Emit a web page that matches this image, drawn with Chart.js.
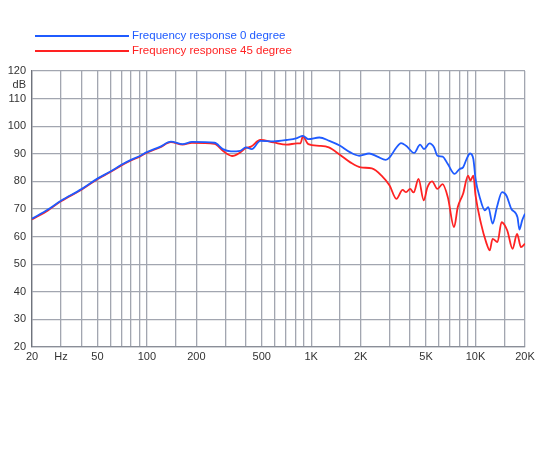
<!DOCTYPE html>
<html><head><meta charset="utf-8">
<script src="https://cdn.jsdelivr.net/npm/chart.js@4.4.0/dist/chart.umd.min.js"></script>
<style>html,body{margin:0;padding:0;background:#fff}#wrap{width:550px;height:450px;position:relative}</style>
</head><body><div id="wrap"><canvas id="c"></canvas></div>
<script>
const seriesLabels = ['Frequency response 0 degree', 'Frequency response 45 degree'];

const freq0 = [20,25,30,40,50,60,70,80,90,100,120,140,165,188,258,290,325,370,400,435,490,590,710,820,890,960,1120,1290,1500,1730,1960,2250,2530,2840,3000,3300,3520,3780,4230,4600,4860,5250,5600,5860,6300,6780,7460,8000,8400,8820,9270,9700,10000,10600,11400,11950,12700,13500,14500,15400,16500,18000,18500,19200,20000];
const spl0 = [66.5,69.8,73.0,77.2,81.0,83.6,86.0,87.8,89.1,90.6,92.5,94.4,93.5,94.3,94.0,91.7,90.9,91.1,92.3,91.7,94.7,94.5,95.0,95.7,96.5,95.3,95.9,94.7,92.9,90.5,89.3,90.1,89.0,87.8,88.7,92.3,93.9,92.9,90.3,93.3,91.7,93.8,92.3,89.3,89.0,86.3,82.7,84.5,85.1,88.1,90.1,88.1,80.9,74.3,69.5,70.7,64.7,70.7,76.1,74.9,70.1,67.0,62.5,65.8,68.3];

const freq45 = [20,25,30,40,50,60,70,80,90,100,120,140,165,188,258,290,330,370,400,430,490,590,710,820,860,890,960,1120,1280,1500,1730,2000,2340,2680,3000,3300,3600,3780,4000,4200,4500,4840,5100,5440,5860,6300,6780,7400,7800,8400,9000,9300,9700,10000,10800,11600,12200,12700,13600,14400,15600,16800,17900,18900,20000];
const spl45 = [66.2,69.5,72.8,77.0,80.8,83.4,85.8,87.6,88.9,90.4,92.3,94.2,93.3,94.0,93.6,91.1,89.2,90.5,92.1,92.6,95.0,94.1,93.3,93.8,93.8,96.3,93.5,92.9,92.3,89.6,86.9,85.1,84.7,82.1,78.5,73.7,76.9,76.1,77.3,76.0,80.9,73.1,77.9,80.0,77.3,79.0,74.3,63.4,70.7,75.5,82.1,80.3,82.1,74.9,64.7,58.0,55.0,59.2,58.0,65.2,62.2,55.6,61.0,56.2,57.4];

const xGridValues = [20,30,40,50,60,70,80,90,100,150,200,300,400,500,600,700,800,900,1000,1500,2000,3000,4000,5000,6000,7000,8000,9000,10000,15000,20000];
const xTickLabels = {20:'20',30:'Hz',50:'50',100:'100',200:'200',500:'500',1000:'1K',2000:'2K',5000:'5K',10000:'10K',20000:'20K'};
const yTickValues = [20,30,40,50,60,70,80,90,100,110,115,120];
const yUnitTick = 115;
const yUnitLabel = 'dB';

const FONT = '"Liberation Sans", Arial, sans-serif';
const GRID = '#a2a6b0';

const legendPlugin = {
  id: 'topLegend',
  afterDraw(chart) {
    const c = chart.ctx;
    chart.data.datasets.forEach((d, i) => {
      const y = 36 + i * 15;
      c.save();
      c.strokeStyle = d.borderColor;
      c.lineWidth = 2;
      c.beginPath(); c.moveTo(35, y); c.lineTo(129, y); c.stroke();
      c.fillStyle = d.borderColor;
      c.font = '11.5px ' + FONT;
      c.textBaseline = 'middle';
      c.fillText(d.label, 132, y);
      c.restore();
    });
  }
};

new Chart(document.getElementById('c'), {
  type: 'line',
  data: {
    datasets: [
      { label: seriesLabels[0], data: freq0.map((f, i) => ({x: f, y: spl0[i]})), borderColor: '#1f5bff', borderWidth: 1.8, pointRadius: 0, cubicInterpolationMode: 'monotone', fill: false },
      { label: seriesLabels[1], data: freq45.map((f, i) => ({x: f, y: spl45[i]})), borderColor: '#ff2222', borderWidth: 1.8, pointRadius: 0, cubicInterpolationMode: 'monotone', fill: false }
    ]
  },
  options: {
    responsive: true, maintainAspectRatio: false, animation: false,
    layout: { padding: { top: 71, right: 25, left: 0, bottom: 0 } },
    plugins: { legend: { display: false }, tooltip: { enabled: false } },
    scales: {
      x: {
        type: 'logarithmic', min: 20, max: 20000,
        afterBuildTicks: s => { s.ticks = xGridValues.map(v => ({ value: v })); },
        afterFit: s => { s.height = 103; },
        ticks: { autoSkip: false, maxRotation: 0, minRotation: 0, padding: 3, color: '#333', font: { size: 11, family: FONT },
          callback: v => xTickLabels[v] || '' },
        grid: { color: GRID, lineWidth: 1.3, drawTicks: false },
        border: { color: '#8a8e98', width: 1.3 }
      },
      y: {
        min: 20, max: 120,
        afterBuildTicks: s => { s.ticks = yTickValues.map(v => ({ value: v })); },
        afterFit: s => { s.width = 32; },
        ticks: { autoSkip: false, padding: 6, color: '#333', font: { size: 11, family: FONT },
          callback: v => v === yUnitTick ? yUnitLabel : String(v) },
        grid: { color: ctx => (ctx.tick && ctx.tick.value === yUnitTick) ? 'rgba(0,0,0,0)' : GRID, lineWidth: 1.3, drawTicks: false },
        border: { color: '#6f737c', width: 1.3 }
      }
    }
  },
  plugins: [legendPlugin]
});
</script>
</body></html>
